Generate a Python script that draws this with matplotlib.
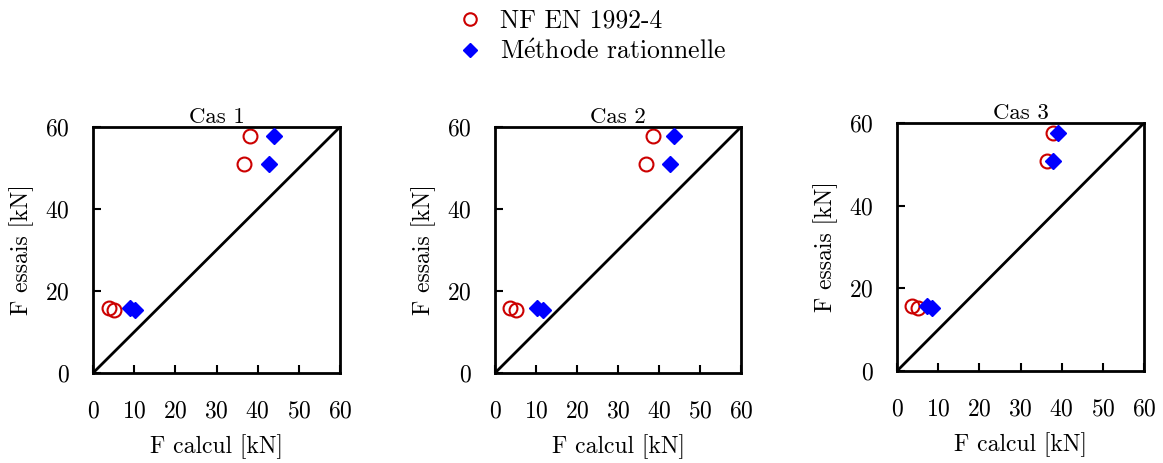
import matplotlib
matplotlib.use('Agg')
import matplotlib.pyplot as plt

plt.rcParams['font.family'] = ['cmr10', 'DejaVu Serif']
plt.rcParams['mathtext.fontset'] = 'cm'
plt.rcParams['axes.formatter.use_mathtext'] = True

titles = ['Cas 1', 'Cas 2', 'Cas 3']
f_essais = [57.7, 50.9, 15.8, 15.3]

# F calcul per case
nf_calc = [
    [38.1, 36.7, 4.0, 5.1],
    [38.5, 36.8, 3.7, 5.0],
    [38.0, 36.5, 3.7, 5.1],
]
rat_calc = [
    [43.9, 42.8, 9.0, 10.2],
    [43.7, 42.7, 10.2, 11.8],
    [39.2, 38.0, 7.3, 8.4],
]

xticks = [0, 10, 20, 30, 40, 50, 60]
yticks = [0, 20, 40, 60]

fig = plt.figure(figsize=(11.63, 4.63), dpi=100)
W, H = 1163, 463
boxes = [(93, 127, 340, 373), (495, 127, 741, 373), (897, 123, 1144, 371)]

for i, (l, t, r, b) in enumerate(boxes):
    ax = fig.add_axes([l / W, 1 - b / H, (r - l) / W, (b - t) / H])
    ax.plot([0, 60], [0, 60], color='black', lw=2, zorder=1)
    h1, = ax.plot(nf_calc[i], f_essais, 'o', ms=10, mfc='none', mec='#cc0000', mew=1.5,
                  label='NF EN 1992-4', zorder=2)
    h2, = ax.plot(rat_calc[i], f_essais, 'D', ms=8, color='#0000ff', mec='#0000ff',
                  label=r'M$\acute{\mathrm{e}}$thode rationnelle', zorder=3)
    ax.set_xlim(0, 60)
    ax.set_ylim(0, 60)
    ax.set_xticks(xticks)
    ax.set_yticks(yticks)
    ax.tick_params(direction='in', length=6, width=1.5, labelsize=17)
    ax.tick_params(axis='x', pad=20)
    ax.tick_params(axis='y', pad=17)
    for s in ax.spines.values():
        s.set_linewidth(2)
    ax.set_title(titles[i], fontsize=16.5, pad=3)
    ax.set_xlabel('F calcul [kN]', fontsize=17, labelpad=8)
    ax.set_ylabel('F essais [kN]', fontsize=17, labelpad=8)

fig.legend(handles=[h1, h2], loc='upper center', bbox_to_anchor=(0.503, 1.03),
           frameon=False, fontsize=18.5, handletextpad=0.15, labelspacing=0.25,
           markerscale=0.9)

fig.savefig('out.png', dpi=100)
